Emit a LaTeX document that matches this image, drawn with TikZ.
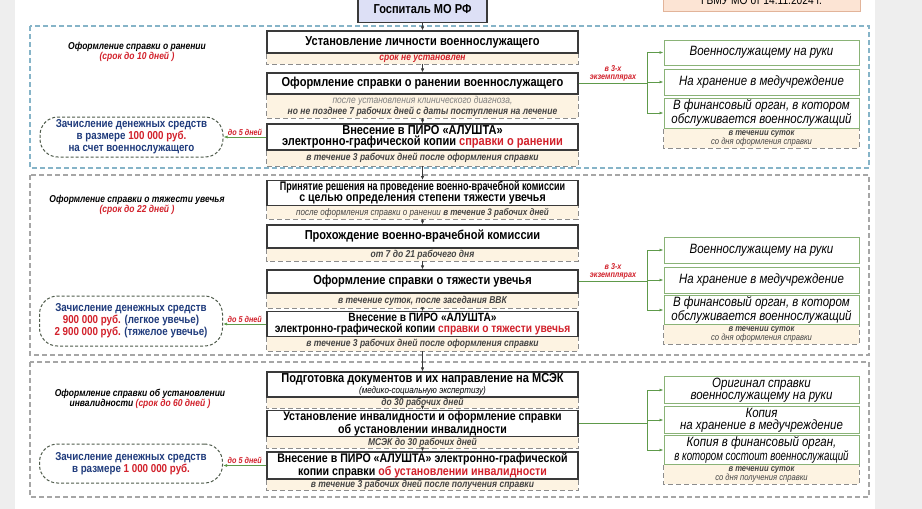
\documentclass[tikz,border=0pt]{standalone}
\usepackage{fontspec}
\setmainfont{Liberation Sans}[FakeStretch=0.85]
\newfontfamily\narrowfont{Liberation Sans}[FakeStretch=0.72]
\usepackage{xcolor}
\usetikzlibrary{arrows.meta,positioning,calc}
\definecolor{PageGray}{HTML}{EEEEEE}
\definecolor{BoxLine}{HTML}{3A3A3A}
\definecolor{NoteFill}{HTML}{FDF3E2}
\definecolor{NoteLine}{HTML}{8C8C8C}
\definecolor{NoteText}{HTML}{444444}
\definecolor{HospFill}{HTML}{DDE0F6}
\definecolor{OrderFill}{HTML}{FCE4D4}
\definecolor{OrderLine}{HTML}{E2B49A}
\definecolor{FrameBlue}{HTML}{86B4C8}
\definecolor{FrameGray}{HTML}{A6A6A6}
\definecolor{ArrowGreen}{HTML}{5E9A4A}
\definecolor{RBoxLine}{HTML}{8AB377}
\definecolor{PayLine}{HTML}{4F5B4B}
\definecolor{PayBlue}{HTML}{1F3B7C}
\definecolor{TermRed}{HTML}{D2212B}

\begin{document}
\begin{tikzpicture}[
  x=1pt, y=-1pt,
  box/.style={draw=BoxLine,line width=1.1pt,fill=white,minimum width=311pt,inner sep=1pt,align=center,font=\bfseries\fontsize{13}{11.5}\selectfont},
  note/.style={fill=NoteFill,minimum width=311pt,inner sep=0.5pt,align=center,text=NoteText,font=\itshape\fontsize{10}{10.5}\selectfont},
  notedash/.style={draw=NoteLine,dash pattern=on 5pt off 3pt,line width=0.8pt},
  rbox/.style={draw=RBoxLine,line width=1pt,fill=white,minimum width=195pt,inner sep=1pt,align=center,font=\itshape\fontsize{13.5}{12}\selectfont},
  rnote/.style={note,minimum width=195pt,minimum height=19pt,font=\itshape\fontsize{9}{9}\selectfont},
  pay/.style={draw=PayLine,dash pattern=on 3pt off 2pt,line width=1pt,rounded corners=18pt,fill=white,minimum width=183pt,inner sep=2pt,align=center,text=PayBlue,font=\bfseries\fontsize{11.5}{12}\selectfont},
  secframe/.style={dash pattern=on 5pt off 3pt,line width=1.1pt},
  sectitle/.style={align=center,font=\bfseries\itshape\fontsize{10}{10}\selectfont},
  lbl/.style={text=TermRed,align=center,inner sep=1pt,font=\bfseries\itshape\fontsize{8.5}{8}\selectfont},
  arrow/.style={-{Latex[length=4pt,width=3.5pt]},BoxLine,line width=0.8pt},
  garrow/.style={-{Latex[length=4pt,width=3pt]},ArrowGreen,line width=0.9pt}
]
  \useasboundingbox (0,0) rectangle (922,509);
  \clip (0,0) rectangle (922,509);
  \fill[PageGray] (0,0) rectangle (922,509);
  \fill[white] (15,0) rectangle (875,509);

  \draw[secframe,FrameBlue] (30,26) rectangle (869,168);
  \draw[secframe,FrameGray] (30,175) rectangle (869,355);
  \draw[secframe,FrameGray] (30,362) rectangle (869,497);

  \node[draw=OrderLine,fill=OrderFill,minimum width=197pt,minimum height=20pt,anchor=south,font=\fontsize{12}{12}\selectfont] (order) at (761.5,11) {ГВМУ МО от 14.11.2024 г.};
  \node[draw=BoxLine,line width=1.2pt,fill=HospFill,minimum width=129pt,minimum height=26pt,anchor=south,font=\bfseries\fontsize{13}{13}\selectfont] (hosp) at (422.5,23) {Госпиталь МО РФ};

  \node[sectitle] (s1) at (137,52) {Оформление справки о ранении\\{\color{TermRed}(срок до 10 дней )}};
  \node[sectitle] (s2) at (137,205) {Оформление справки о тяжести увечья\\{\color{TermRed}(срок до 22 дней )}};
  \node[sectitle] (s3) at (140,399) {Оформление справки об установлении\\инвалидности {\color{TermRed}(срок до 60 дней )}};

  \node[box,minimum height=22pt] (b1) at (422.5,42) {Установление личности военнослужащего};
  \node[note,minimum height=10pt,below=0pt of b1] (n1) {\bfseries\color{TermRed}срок не установлен};
  \node[box,minimum height=21pt] (b2) at (422.5,83.5) {Оформление справки о ранении военнослужащего};
  \node[note,minimum height=23pt,below=0pt of b2] (n2) {{\color{gray}после установления клинического диагноза,}\\\bfseries но не позднее 7 рабочих дней с даты поступления на лечение};
  \node[box,minimum height=26pt] (b3) at (422.5,137) {Внесение в ПИРО «АЛУШТА»\\электронно-графической копии {\color{TermRed}справки о ранении}};
  \node[note,minimum height=15pt,below=0pt of b3] (n3) {\bfseries в течение 3 рабочих дней после оформления справки};

  \node[box,minimum height=22pt,font=\bfseries\fontsize{12.5}{11}\selectfont] (b4) at (422.5,193) {{\narrowfont Принятие решения на проведение военно-врачебной комиссии}\\с целью определения степени тяжести увечья};
  \node[note,minimum height=13pt,below=0pt of b4,font=\itshape\fontsize{9.5}{10}\selectfont] (n4) {после оформления справки о ранении \textbf{в течение 3 рабочих дней}};
  \node[box,minimum height=23pt] (b5) at (422.5,236.5) {Прохождение военно-врачебной комиссии};
  \node[note,minimum height=12pt,below=0pt of b5] (n5) {\bfseries от 7 до 21 рабочего дня};
  \node[box,minimum height=23pt] (b6) at (422.5,281.5) {Оформление справки о тяжести увечья};
  \node[note,minimum height=14pt,below=0pt of b6] (n6) {\bfseries в течение суток, после заседания ВВК};
  \node[box,minimum height=24pt,font=\bfseries\fontsize{12}{11.5}\selectfont] (b7) at (422.5,324) {Внесение в ПИРО «АЛУШТА»\\электронно-графической копии {\color{TermRed}справки о тяжести увечья}};
  \node[note,minimum height=14pt,below=0pt of b7] (n7) {\bfseries в течение 3 рабочих дней после оформления справки};

  \node[box,minimum height=25pt] (b8) at (422.5,384.5) {Подготовка документов и их направление на МСЭК\\{\mdseries\itshape\fontsize{9.5}{9.5}\selectfont(медико-социальную экспертизу)}};
  \node[note,minimum height=9pt,below=0pt of b8] (n8) {\bfseries до 30 рабочих дней};
  \node[box,minimum height=25pt,font=\bfseries\fontsize{12.5}{11}\selectfont] (b9) at (422.5,423.5) {Установление инвалидности и оформление справки\\об установлении инвалидности};
  \node[note,minimum height=10pt,below=0pt of b9] (n9) {\bfseries МСЭК до 30 рабочих дней};
  \node[box,minimum height=27pt,font=\bfseries\fontsize{12.5}{11.5}\selectfont] (b10) at (422.5,465.5) {Внесение в ПИРО «АЛУШТА» электронно-графической\\копии справки {\color{TermRed}об установлении инвалидности}};
  \node[note,minimum height=10pt,below=0pt of b10] (n10) {\bfseries в течение 3 рабочих дней после получения справки};

  \node[rbox,minimum height=25pt] (r1) at (761.5,52.5) {Военнослужащему на руки};
  \node[rbox,minimum height=26pt] (r2) at (761.5,82) {На хранение в медучреждение};
  \node[rbox,minimum height=30pt] (r3) at (761.5,113) {В финансовый орган, в котором\\обслуживается военнослужащий};
  \node[rnote,below=0pt of r3] (rn1) {\textbf{в течении суток}\\со дня оформления справки};
  \node[rbox,minimum height=26pt] (r4) at (761.5,250) {Военнослужащему на руки};
  \node[rbox,minimum height=26pt] (r5) at (761.5,280) {На хранение в медучреждение};
  \node[rbox,minimum height=28pt] (r6) at (761.5,310) {В финансовый орган, в котором\\обслуживается военнослужащий};
  \node[rnote,below=0pt of r6] (rn2) {\textbf{в течении суток}\\со дня оформления справки};
  \node[rbox,minimum height=26pt] (r7) at (761.5,390) {Оригинал справки\\военнослужащему на руки};
  \node[rbox,minimum height=26pt] (r8) at (761.5,420) {Копия\\на хранение в медучреждение};
  \node[rbox,minimum height=26pt] (r9) at (761.5,450) {Копия в финансовый орган,\\{\narrowfont в котором состоит военнослужащий}};
  \node[rnote,below=0pt of r9] (rn3) {\textbf{в течении суток}\\со дня получения справки};

  \node[pay,minimum height=40pt] (l1) at (131.5,137) {Зачисление денежных средств\\в размере {\color{TermRed}100 000 руб.}\\на счет военнослужащего};
  \node[pay,minimum height=50pt] (l2) at (131,321) {Зачисление денежных средств\\{\color{TermRed}900 000 руб.} (легкое увечье)\\{\color{TermRed}2 900 000 руб.} (тяжелое увечье)};
  \node[pay,minimum height=39pt] (l3) at (131,463.5) {Зачисление денежных средств\\в размере {\color{TermRed}1 000 000 руб.}};

  \foreach \n in {n1,n2,n3,n4,n5,n6,n7,n8,n9,n10,rn1,rn2,rn3}
    \draw[notedash] (\n.north west) |- (\n.south east) -- (\n.north east);

  \foreach \a/\b in {hosp/b1,n1/b2,n2/b3,n3/b4,n4/b5,n5/b6,n6/b7,n7/b8,n8/b9,n9/b10}
    \draw[arrow] (\a) -- (\b);

  \draw[garrow] (b2.east) -- node[lbl,above=1pt] {в 3-х\\экземплярах} +(69,0) |- (r1.west);
  \draw[garrow] (b2.east) -- +(69,0) |- (r2.west);
  \draw[garrow] (b2.east) -- +(69,0) |- (r3.west);
  \draw[garrow] (b6.east) -- node[lbl,above=1pt] {в 3-х\\экземплярах} +(69,0) |- (r4.west);
  \draw[garrow] (b6.east) -- +(69,0) |- (r5.west);
  \draw[garrow] (b6.east) -- +(69,0) |- (r6.west);
  \draw[garrow] (b9.east) -- +(69,0) |- (r7.west);
  \draw[garrow] (b9.east) -- +(69,0) |- (r8.west);
  \draw[garrow] (b9.east) -- +(69,0) |- (r9.west);

  \draw[garrow] (b3.west) -- node[lbl,above] {до 5 дней} (b3.west -| l1.east);
  \draw[garrow] (b7.west) -- node[lbl,above] {до 5 дней} (b7.west -| l2.east);
  \draw[garrow] (b10.west) -- node[lbl,above] {до 5 дней} (b10.west -| l3.east);
\end{tikzpicture}
\end{document}
